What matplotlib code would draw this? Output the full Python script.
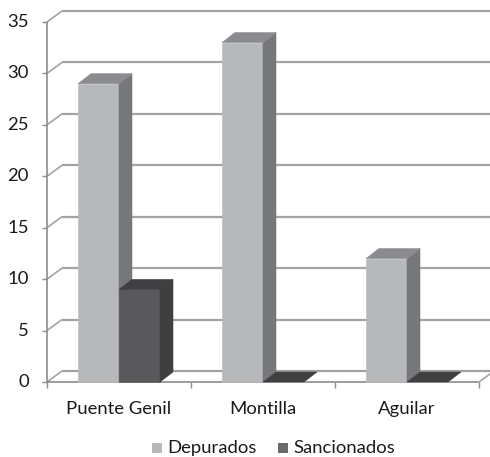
import numpy as np
import matplotlib
matplotlib.use("Agg")
import matplotlib.pyplot as plt
from matplotlib.patches import Polygon, Rectangle

categories = ["Puente Genil", "Montilla", "Aguilar"]
depurados = [29, 33, 12]
sancionados = [9, 0, 0]
yticks = [0, 5, 10, 15, 20, 25, 30, 35]

plt.rcParams['font.family'] = ['Lato', 'DejaVu Sans']

W, H = 490, 457
fig = plt.figure(figsize=(W / 100, H / 100), dpi=100)
# front plane of the 3D box: x 47..479 px, y 22..382 px
ax = fig.add_axes([47 / W, (H - 382) / H, 432 / W, 360 / H])
ax.set_xlim(0, 3)
ax.set_ylim(0, 35)
ax.set_axis_off()

px_x = 432 / 3 / 1.0   # px per category
px_y = 360 / 35        # px per unit
wdx, wdy = 15 / px_x, 11 / px_y    # wall depth
bdx, bdy = 13 / px_x, 10 / px_y    # bar depth
bw = 41 / px_x
fs = 13.3

grid_c = "#a3a3a3"
kw = dict(clip_on=False, solid_capstyle="butt")

# back wall gridlines + left wall diagonals
for t in yticks:
    ax.plot([wdx, 3 + wdx + 0.1], [t + wdy, t + wdy], color=grid_c, lw=1.6, zorder=1, **kw)
    ax.plot([0, wdx], [t, t + wdy], color=grid_c, lw=1.2, zorder=1, **kw)
    ax.plot([-5 / px_x, 0], [t, t], color="#8c8c8c", lw=1.0, zorder=1, **kw)

# floor front edge, right diagonal and front axis
ax.plot([0, 3], [0, 0], color="#8c8c8c", lw=1.2, zorder=1, **kw)
ax.plot([3, 3 + wdx], [0, wdy], color=grid_c, lw=1.2, zorder=1, **kw)
ax.plot([0, 0], [0, 35], color="#8c8c8c", lw=1.2, zorder=1, **kw)
for i in range(4):
    ax.plot([i, i], [0, -6 / px_y], color="#8c8c8c", lw=1.0, zorder=1, **kw)


def box(x0, v, front, side, top, z):
    x1 = x0 + bw
    if v > 0:
        ax.add_patch(Rectangle((x0, 0), bw, v, fc=front, ec=front, lw=0.4, zorder=z, clip_on=False))
        ax.add_patch(Polygon([(x1, 0), (x1 + bdx, bdy), (x1 + bdx, v + bdy), (x1, v)],
                             fc=side, ec=side, lw=0.4, zorder=z, clip_on=False))
    ax.add_patch(Polygon([(x0, v), (x0 + bdx, v + bdy), (x1 + bdx, v + bdy), (x1, v)],
                         fc=top, ec=top, lw=0.4, zorder=z, clip_on=False))


z = 3
for i in range(len(categories)):
    c = i + 0.5
    box(c - bw, depurados[i], "#b7b8ba", "#76777b", "#8b8c8f", z)
    z += 1
    box(c, sancionados[i], "#59595b", "#3f3f41", "#404042", z)
    z += 1

for t in yticks:
    ax.text(-18 / px_x, t, str(t), ha="right", va="center", fontsize=fs, color="#1a1a1a", clip_on=False)
for i, name in enumerate(categories):
    ax.text(i + 0.5, -27 / px_y, name, ha="center", va="center", fontsize=fs, color="#1a1a1a")

# legend
ly = -66 / px_y
for x, lab, col in [(152, "Depurados", "#b7b8ba"), (278, "Sancionados", "#6b6b6d")]:
    xd = (x - 47) / px_x
    ax.add_patch(Rectangle((xd, ly - 5 / px_y), 10 / px_x, 10 / px_y, fc=col, ec="none", clip_on=False))
    ax.text(xd + 15 / px_x, ly, lab, ha="left", va="center", fontsize=fs, color="#1a1a1a")

fig.savefig("out.png", dpi=100)
